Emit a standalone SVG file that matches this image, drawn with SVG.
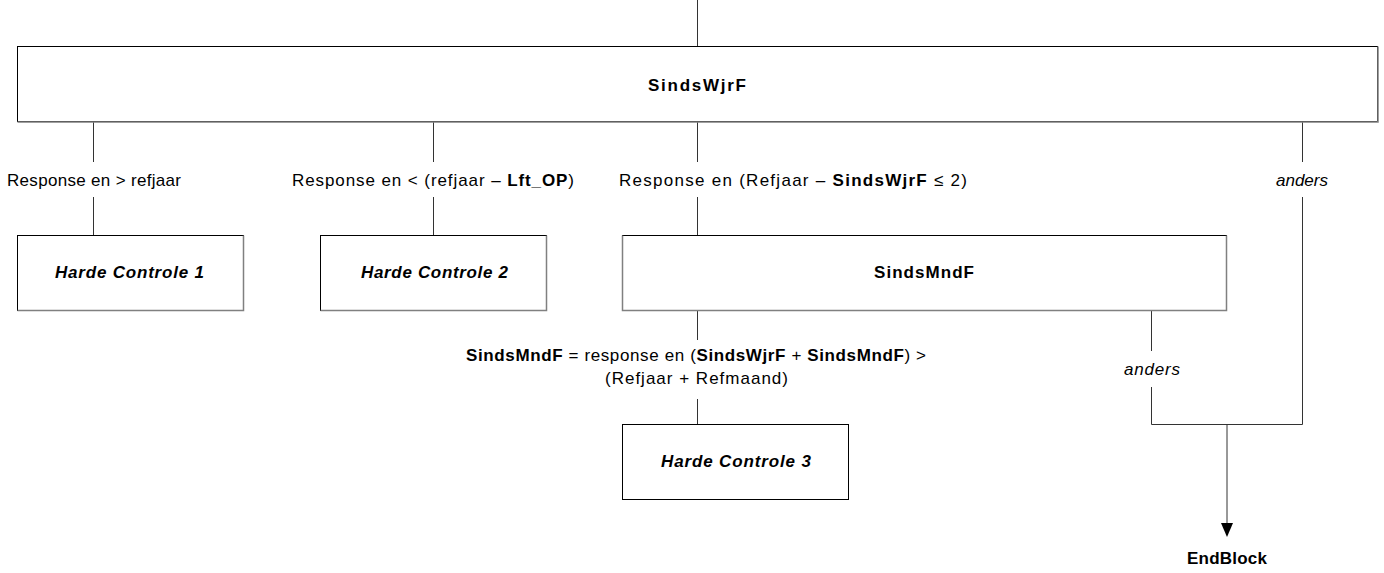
<svg xmlns="http://www.w3.org/2000/svg" width="1384" height="573" viewBox="0 0 1384 573">
<style>
text{font-family:"Liberation Sans",Arial,sans-serif;font-size:17px;fill:#000}
.b{font-weight:bold}
.i{font-style:italic}
.box{fill:#fff;stroke:#000;stroke-width:1}
.sh{fill:none;stroke:#808080;stroke-width:1.5}
.ln{fill:none;stroke:#333;stroke-width:1}
</style>
<rect width="1384" height="573" fill="#fff"/>
<g id="connectors">
<line class="ln" x1="697.5" y1="0" x2="697.5" y2="46"/>
<line class="ln" x1="93.5" y1="122" x2="93.5" y2="162"/>
<line class="ln" x1="93.5" y1="197" x2="93.5" y2="235"/>
<line class="ln" x1="433.5" y1="122" x2="433.5" y2="162"/>
<line class="ln" x1="433.5" y1="197" x2="433.5" y2="235"/>
<line class="ln" x1="697.5" y1="122" x2="697.5" y2="162"/>
<line class="ln" x1="697.5" y1="197" x2="697.5" y2="235"/>
<line class="ln" x1="1302.5" y1="122" x2="1302.5" y2="162"/>
<polyline class="ln" points="1302.5,197 1302.5,424.5 1226.5,424.5"/>
<line class="ln" x1="697.5" y1="310" x2="697.5" y2="340"/>
<line class="ln" x1="697.5" y1="399" x2="697.5" y2="424"/>
<line class="ln" x1="1151.5" y1="310" x2="1151.5" y2="351"/>
<polyline class="ln" points="1151.5,387 1151.5,424.5 1227.5,424.5"/>
<line class="ln" x1="1227" y1="424" x2="1227" y2="526"/>
<path d="M1221,523 L1233,523 L1227,537 Z" fill="#000"/>
<text x="7" y="186" textLength="174" lengthAdjust="spacing">Response en &gt; refjaar</text>
<text x="292" y="186" textLength="282" lengthAdjust="spacing">Response en &lt; (refjaar – <tspan class="b">Lft_OP</tspan>)</text>
<text x="619" y="186" textLength="348" lengthAdjust="spacing">Response en (Refjaar – <tspan class="b">SindsWjrF</tspan> ≤ 2)</text>
<text x="1302" y="186" class="i" text-anchor="middle">anders</text>
<text x="466" y="361" textLength="460" lengthAdjust="spacing"><tspan class="b">SindsMndF</tspan> = response en (<tspan class="b">SindsWjrF</tspan> + <tspan class="b">SindsMndF</tspan>) &gt;</text>
<text x="605" y="384" textLength="183" lengthAdjust="spacing">(Refjaar + Refmaand)</text>
<text x="1124" y="375" class="i" textLength="56" lengthAdjust="spacing">anders</text>
</g>
<g id="SindsWjrF">
<rect class="box" x="17.5" y="46.5" width="1360" height="75"/>
<polyline class="sh" points="17.5,122 1378,122 1378,46.5"/>
<text x="648" y="91" class="b" textLength="98" lengthAdjust="spacing">SindsWjrF</text>
</g>
<g id="HC1">
<rect class="box" x="17.5" y="235.5" width="226" height="75"/>
<polyline class="sh" points="17.5,310.5 243.5,310.5 243.5,235.5"/>
<text x="55" y="278" class="b i" textLength="149" lengthAdjust="spacing">Harde Controle 1</text>
</g>
<g id="HC2">
<rect class="box" x="320.5" y="235.5" width="226" height="75"/>
<polyline class="sh" points="320.5,310.5 546.5,310.5 546.5,235.5"/>
<text x="361" y="278" class="b i" textLength="147" lengthAdjust="spacing">Harde Controle 2</text>
</g>
<g id="SindsMndF">
<rect class="box" x="622.5" y="235.5" width="604" height="75"/>
<polyline class="sh" points="622.5,235.5 622.5,310.5 1226.5,310.5 1226.5,235.5"/>
<text x="874" y="278" class="b" textLength="100" lengthAdjust="spacing">SindsMndF</text>
</g>
<g id="HC3">
<rect class="box" x="622.5" y="424.5" width="226" height="75"/>
<text x="661" y="467" class="b i" textLength="150" lengthAdjust="spacing">Harde Controle 3</text>
</g>
<g id="EndBlock">
<text x="1187" y="564" class="b" textLength="80" lengthAdjust="spacing">EndBlock</text>
</g>
</svg>
